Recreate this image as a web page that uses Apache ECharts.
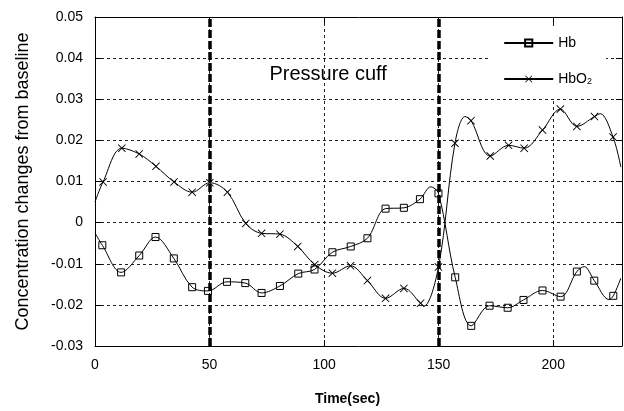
<!DOCTYPE html>
<html>
<head>
<meta charset="utf-8">
<script src="https://cdn.jsdelivr.net/npm/echarts@6/dist/echarts.min.js"></script>
<style>
  html, body { margin: 0; padding: 0; background: #fff; }
  #chart { width: 624px; height: 411px; }
</style>
</head>
<body>
<div id="chart"></div>
<script>
// marked samples (time, value)
const hbTime = [3.2, 11.4, 19.3, 26.4, 34.4, 42.4, 49.3, 57.6, 65.6, 72.7, 80.7, 88.7, 95.8, 103.6, 111.6,
    118.9, 126.8, 134.8, 141.8, 149.9, 157.2, 164.2, 172.2, 180.1, 187.0, 195.3, 203.2, 210.3, 217.9, 226.2];
const hbValue = [-0.0055, -0.0121, -0.0080, -0.0035, -0.0087, -0.0157, -0.0166, -0.0144, -0.0147, -0.0171,
    -0.0154, -0.0124, -0.0114, -0.0072, -0.0058, -0.0038, 0.0034, 0.0036, 0.0057, 0.0071,
    -0.0133, -0.0251, -0.0202, -0.0207, -0.0188, -0.0165, -0.0180, -0.0119, -0.0141, -0.0178];
// unmarked curve points (ends and peaks between markers)
const hbCurveTime = [0, 146.5, 213.5, 224.3, 229.5];
const hbCurveValue = [-0.0025, 0.0087, -0.0107, -0.0187, -0.0135];

const hbo2Time = [3.5, 11.7, 19.3, 26.6, 34.5, 42.4, 50.1, 57.8, 65.8, 72.7, 80.7, 88.5, 95.9, 103.6, 111.5,
    118.9, 126.8, 134.8, 142.1, 149.9, 157.1, 164.1, 172.5, 180.5, 187.3, 195.3, 203.1, 210.3, 218.0, 226.1];
const hbo2Value = [0.0099, 0.0181, 0.0167, 0.0137, 0.0099, 0.0074, 0.0097, 0.0074, -0.0002, -0.0026,
    -0.0028, -0.0058, -0.0102, -0.0123, -0.0105, -0.0141, -0.0184, -0.0160, -0.0196, -0.0108,
    0.0193, 0.0248, 0.0162, 0.0188, 0.0181, 0.0225, 0.0276, 0.0234, 0.0258, 0.0208];
const hbo2CurveTime = [0, 143.6, 161.5, 220.5, 229.5];
const hbo2CurveValue = [0.0050, -0.0203, 0.0258, 0.0265, 0.0135];

const cuffTimes = [50, 150];
const xTicks = [0, 50, 100, 150, 200];

const font = 'Liberation Sans, Arial, sans-serif';
const crossPath = 'path://M0,0.8L0.8,0L5,4.2L9.2,0L10,0.8L5.8,5L10,9.2L9.2,10L5,5.8L0.8,10L0,9.2L4.2,5Z';

function buildData(tx, vy, cx, cy) {
    const pts = [];
    tx.forEach((t, i) => pts.push({value: [t, vy[i]]}));
    cx.forEach((t, i) => pts.push({value: [t, cy[i]], symbol: 'none'}));
    pts.sort((a, b) => a.value[0] - b.value[0]);
    return pts;
}

const chart = echarts.init(document.getElementById('chart'), null, {renderer: 'canvas'});

const gridDash = {show: true, lineStyle: {color: '#222', type: [3, 3], width: 1}};
const axisLine = {show: true, onZero: false, lineStyle: {color: '#000', width: 1}};
const tick = {show: true, inside: true, length: 6, lineStyle: {color: '#000'}};

chart.setOption({
    animation: false,
    backgroundColor: '#fff',
    textStyle: {fontFamily: font},
    grid: {left: 95, right: 2, top: 17, bottom: 62},
    legend: {
        orient: 'vertical',
        right: 18,
        top: 26,
        padding: [10, 14, 12, 14],
        backgroundColor: '#fff',
        itemWidth: 49,
        itemHeight: 9,
        itemGap: 22,
        data: ['Hb', 'HbO2'],
        formatter: name => name === 'HbO2' ? 'HbO{s|2}' : name,
        textStyle: {
            fontSize: 14, color: '#000', fontFamily: font,
            rich: {s: {fontSize: 9, padding: [6, 0, 0, 0], fontFamily: font}}
        }
    },
    xAxis: [{
        type: 'value',
        min: 0, max: 230, interval: 50,
        name: 'Time(sec)',
        nameLocation: 'middle',
        nameGap: 46,
        nameTextStyle: {fontSize: 14, fontWeight: 'bold', color: '#000', padding: [0, 22, 0, 0]},
        axisLine: axisLine,
        axisTick: tick,
        axisLabel: {fontSize: 14, color: '#000', margin: 12, customValues: xTicks},
        splitLine: gridDash
    }, {
        type: 'value', position: 'top',
        min: 0, max: 230, interval: 50,
        axisLine: axisLine, axisTick: tick,
        axisLabel: {show: false}, splitLine: {show: false}
    }],
    yAxis: [{
        type: 'value',
        min: -0.03, max: 0.05, interval: 0.01,
        name: 'Concentration changes from baseline',
        nameLocation: 'middle',
        nameGap: 63,
        nameTextStyle: {fontSize: 18, color: '#000'},
        axisLine: axisLine,
        axisTick: tick,
        axisLabel: {
            fontSize: 14, color: '#000', margin: 12,
            formatter: v => (Math.abs(v) < 1e-9 ? '0' : v.toFixed(2))
        },
        splitLine: gridDash
    }, {
        type: 'value', position: 'right',
        min: -0.03, max: 0.05, interval: 0.01,
        axisLine: axisLine, axisTick: tick,
        axisLabel: {show: false}, splitLine: {show: false}
    }],
    series: [{
        name: 'Hb',
        type: 'line',
        smooth: 0.35,
        symbol: 'rect',
        symbolSize: 7,
        showAllSymbol: true,
        itemStyle: {color: 'rgba(0,0,0,0)', borderColor: '#000', borderWidth: 1},
        lineStyle: {color: '#000', width: 1},
        data: buildData(hbTime, hbValue, hbCurveTime, hbCurveValue),
        markLine: {
            silent: true,
            symbol: 'none',
            label: {show: false},
            lineStyle: {color: '#000', width: 3.5, type: [8, 3]},
            data: cuffTimes.map(t => ({xAxis: t}))
        },
        markArea: {
            silent: true,
            itemStyle: {color: 'rgba(0,0,0,0)'},
            label: {
                show: true, position: 'insideTop', distance: 47, offset: [4, 0],
                fontSize: 20, color: '#000', fontFamily: font
            },
            data: [[{name: 'Pressure cuff', xAxis: cuffTimes[0]}, {xAxis: cuffTimes[1]}]]
        }
    }, {
        name: 'HbO2',
        type: 'line',
        smooth: 0.35,
        symbol: crossPath,
        symbolSize: 8,
        showAllSymbol: true,
        itemStyle: {color: '#000'},
        lineStyle: {color: '#000', width: 1},
        data: buildData(hbo2Time, hbo2Value, hbo2CurveTime, hbo2CurveValue)
    }]
});
</script>
</body>
</html>
